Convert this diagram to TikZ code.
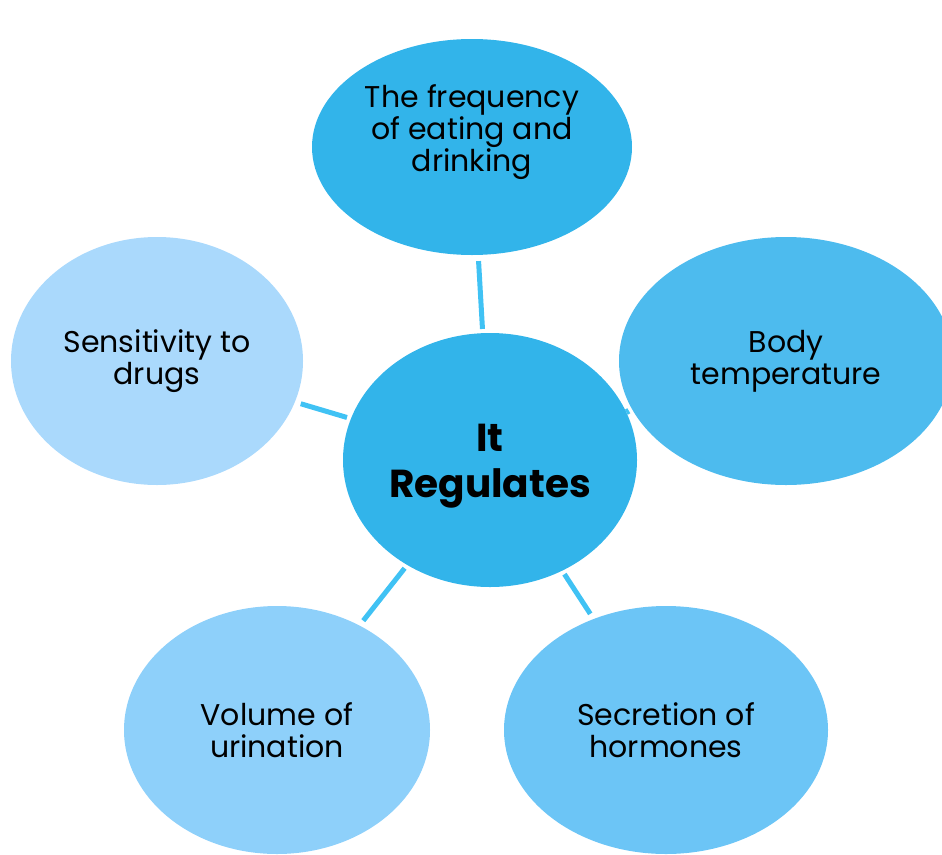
\documentclass[tikz,border=0pt]{standalone}
\usepackage{fontspec}
\setmainfont{Poppins}
\usetikzlibrary{shapes.geometric}
\definecolor{cMain}{HTML}{32B4EA}
\definecolor{cTop}{HTML}{32B4EA}
\definecolor{cRight}{HTML}{4DBBEE}
\definecolor{cLeft}{HTML}{AAD9FC}
\definecolor{cBL}{HTML}{8ED0FA}
\definecolor{cBR}{HTML}{6CC5F6}
\definecolor{cLine}{HTML}{40C2F4}
\tikzset{
  bubble/.style={ellipse, inner sep=0pt, align=center, text=black, font=\fontsize{30}{32}\selectfont},
  link/.style={draw=cLine, line width=5pt, shorten <=6pt, shorten >=4pt}
}
\begin{document}
\begin{tikzpicture}[x=1pt,y=-1pt]
\useasboundingbox (0,0) rectangle (942,854);
\node[bubble, fill=cTop, minimum width=320pt, minimum height=216pt,
  label={[align=center, text=black, font=\fontsize{30}{32}\selectfont, yshift=15pt]center:The frequency\\of eating and\\drinking}] (top) at (472,147) {};
\node[bubble, fill=cRight, minimum width=334pt, minimum height=248pt] (right) at (786,361) {Body\\temperature};
\node[bubble, fill=cLeft, minimum width=292pt, minimum height=248pt] (left) at (157,361) {Sensitivity to\\drugs};
\node[bubble, fill=cBL, minimum width=306pt, minimum height=248pt] (bl) at (277,730) {Volume of\\urination};
\node[bubble, fill=cBR, minimum width=324pt, minimum height=248pt] (br) at (666,730) {Secretion of\\hormones};
\node[bubble, fill=cMain, minimum width=294pt, minimum height=254pt,
  label={[align=center, text=black, font=\fontsize{39}{46}\selectfont\bfseries, yshift=-6pt]center:It\\Regulates}] (c) at (490,460) {};
\draw[link] (top) -- (c);
\draw[link] (left) -- (c);
\draw[link] (bl) -- (c);
\draw[link] (br) -- (c);
\coordinate (rt1) at (626,409);
\coordinate (rt2) at (629,414);
\draw[draw=cLine, line width=3pt] (rt1) -- (rt2);
\end{tikzpicture}
\end{document}
